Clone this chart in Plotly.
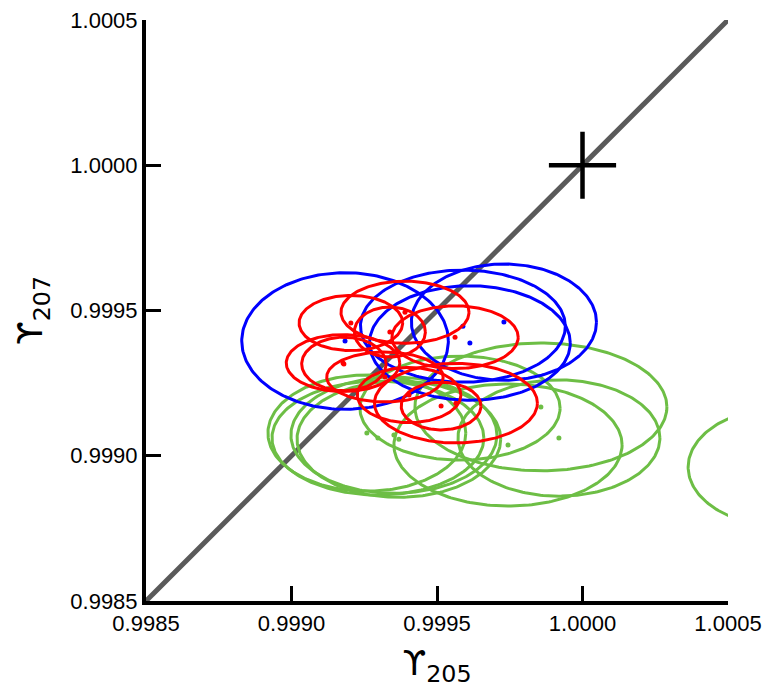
import numpy as np
import plotly.graph_objects as go

# ---- data ----
tick_vals = [0.9985, 0.9990, 0.9995, 1.0000, 1.0005]
tick_text = ["0.9985", "0.9990", "0.9995", "1.0000", "1.0005"]

# blue ellipses: centers and semi-axes
blue_x = [0.999184, 0.999730, 0.999589, 0.999613]
blue_y = [0.999395, 0.999460, 0.999446, 0.999388]
blue_a = [0.000355, 0.000318, 0.000352, 0.000345]
blue_b = [0.000235, 0.000200, 0.000193, 0.000197]

# red ellipses
red_x = [0.999204, 0.999390, 0.999338, 0.999562, 0.999177, 0.999180, 0.999321, 0.999404, 0.999565, 0.999514]
red_y = [0.999457, 0.999494, 0.999426, 0.999408, 0.999319, 0.999316, 0.999271, 0.999209, 0.999181, 0.999171]
red_a = [0.000178, 0.000220, 0.000122, 0.000217, 0.000195, 0.000145, 0.000200, 0.000178, 0.000280, 0.000137]
red_b = [0.000095, 0.000107, 0.000086, 0.000108, 0.000098, 0.000092, 0.000086, 0.000095, 0.000137, 0.000082]

# green ellipses
green_x = [0.999259, 0.999297, 0.999352, 0.999369, 0.999579, 0.999744, 0.999857, 0.999919, 1.000696]
green_y = [0.999078, 0.999061, 0.999071, 0.999057, 0.999164, 0.999037, 0.999168, 0.999061, 0.998961]
green_a = [0.000340, 0.000364, 0.000354, 0.000350, 0.000344, 0.000392, 0.000433, 0.000347, 0.000333]
green_b = [0.000200, 0.000196, 0.000200, 0.000200, 0.000179, 0.000210, 0.000220, 0.000200, 0.000206]
green_dot = [True, True, True, True, False, True, True, True, True]

reference_point = (1.0000, 1.0000)

BLUE = "#0000ff"
RED = "#ff0000"
GREEN = "#6dbe45"

fig = go.Figure()

# 1:1 line
fig.add_trace(go.Scatter(x=[tick_vals[0], tick_vals[-1]], y=[tick_vals[0], tick_vals[-1]],
                         mode="lines", line=dict(color="#5a5a5a", width=5), hoverinfo="skip"))

t = np.linspace(0, 2 * np.pi, 241)


def add_group(xs, ys, as_, bs, color, dots=None):
    for i, (cx, cy, a, b) in enumerate(zip(xs, ys, as_, bs)):
        fig.add_trace(go.Scatter(x=cx + a * np.cos(t), y=cy + b * np.sin(t), mode="lines",
                                 line=dict(color=color, width=3), hoverinfo="skip"))
    dx = [x for i, x in enumerate(xs) if dots is None or dots[i]]
    dy = [y for i, y in enumerate(ys) if dots is None or dots[i]]
    fig.add_trace(go.Scatter(x=dx, y=dy, mode="markers", marker=dict(color=color, size=5),
                             cliponaxis=True, hoverinfo="skip"))


add_group(green_x, green_y, green_a, green_b, GREEN, green_dot)
add_group(blue_x, blue_y, blue_a, blue_b, BLUE)
add_group(red_x, red_y, red_a, red_b, RED)

# reference cross
fig.add_trace(go.Scatter(x=[reference_point[0]], y=[reference_point[1]], mode="markers",
                         marker=dict(symbol="cross-thin", size=48, line=dict(color="black", width=4.5)),
                         hoverinfo="skip"))

pad = 1e-9
axis_common = dict(range=[tick_vals[0] - pad, tick_vals[-1] + pad], tickvals=tick_vals, ticktext=tick_text,
                   showline=True, linecolor="black", linewidth=4, ticks="inside", ticklen=15,
                   tickwidth=3, tickcolor="black", showgrid=False, zeroline=False, automargin=False,
                   ticklabeloverflow="allow",
                   tickfont=dict(family="Liberation Sans", size=22, color="black"))

fig.update_layout(
    width=762, height=696,
    margin=dict(l=146, r=34, t=20, b=95),
    plot_bgcolor="white", paper_bgcolor="white",
    showlegend=False,
    xaxis=dict(**axis_common,
               title=dict(text="ϒ<sub>205</sub>", standoff=17,
                          font=dict(family="DejaVu Sans", size=34, color="black"))),
    yaxis=dict(**axis_common,
               title=dict(text="ϒ<sub>207</sub>", standoff=18,
                          font=dict(family="DejaVu Sans", size=34, color="black"))),
)

fig.write_html("out.html")
